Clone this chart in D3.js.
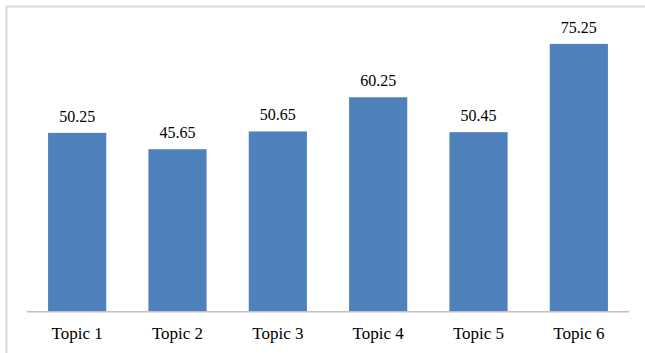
<!DOCTYPE html>
<html>
<head>
<meta charset="utf-8">
<script src="https://cdn.jsdelivr.net/npm/d3@7"></script>
<style>
  body { margin: 0; background: #fff; }
</style>
</head>
<body>
<script>
const topics = ['Topic 1', 'Topic 2', 'Topic 3', 'Topic 4', 'Topic 5', 'Topic 6']
const scores = [50.25, 45.65, 50.65, 60.25, 50.45, 75.25]

const width = 645, height = 353
const margin = {top: 27, right: 16, bottom: 41, left: 27}
const serif = "'Liberation Serif', Tinos, serif"

const svg = d3.select('body').append('svg')
    .attr('width', width)
    .attr('height', height)

// chart area border (runs off the right and bottom edge)
svg.append('rect')
    .attr('x', 6.5)
    .attr('y', 6.5)
    .attr('width', width + 20)
    .attr('height', height + 20)
    .attr('fill', 'none')
    .attr('stroke', '#d9d9d9')
    .attr('stroke-width', 2)

const xScale = d3.scaleBand()
    .domain(topics)
    .range([margin.left, width - margin.right])
    .paddingInner(0.42)
    .paddingOuter(0.21)

const yScale = d3.scaleLinear()
    .domain([0, 80])
    .range([height - margin.bottom - 0.3, margin.top])

svg.selectAll('.bar').data(topics)
    .enter()
    .append('rect')
        .attr('class', 'bar')
        .attr('x', d => xScale(d))
        .attr('y', (d, i) => yScale(scores[i]))
        .attr('width', xScale.bandwidth())
        .attr('height', (d, i) => yScale(0) - yScale(scores[i]))
        .attr('fill', '#4f81bd')

svg.selectAll('.value').data(topics)
    .enter()
    .append('text')
        .attr('class', 'value')
        .attr('x', d => xScale(d) + xScale.bandwidth() / 2)
        .attr('y', (d, i) => yScale(scores[i]) - 11)
        .attr('text-anchor', 'middle')
        .attr('font-family', serif)
        .attr('font-size', 16)
        .attr('fill', '#000')
        .text((d, i) => scores[i].toFixed(2))

const xAxis = svg.append('g')
    .attr('transform', 'translate(0,' + yScale(0) + ')')
    .call(d3.axisBottom(xScale).tickSize(0).tickPadding(15))
    .attr('font-family', serif)
    .attr('font-size', 17)

xAxis.select('.domain')
    .attr('stroke', '#bfbfbf')
    .attr('stroke-width', 1.5)
    .attr('d', 'M' + margin.left + ',0H' + (width - margin.right))

xAxis.selectAll('text')
    .attr('fill', '#000')
</script>
</body>
</html>
